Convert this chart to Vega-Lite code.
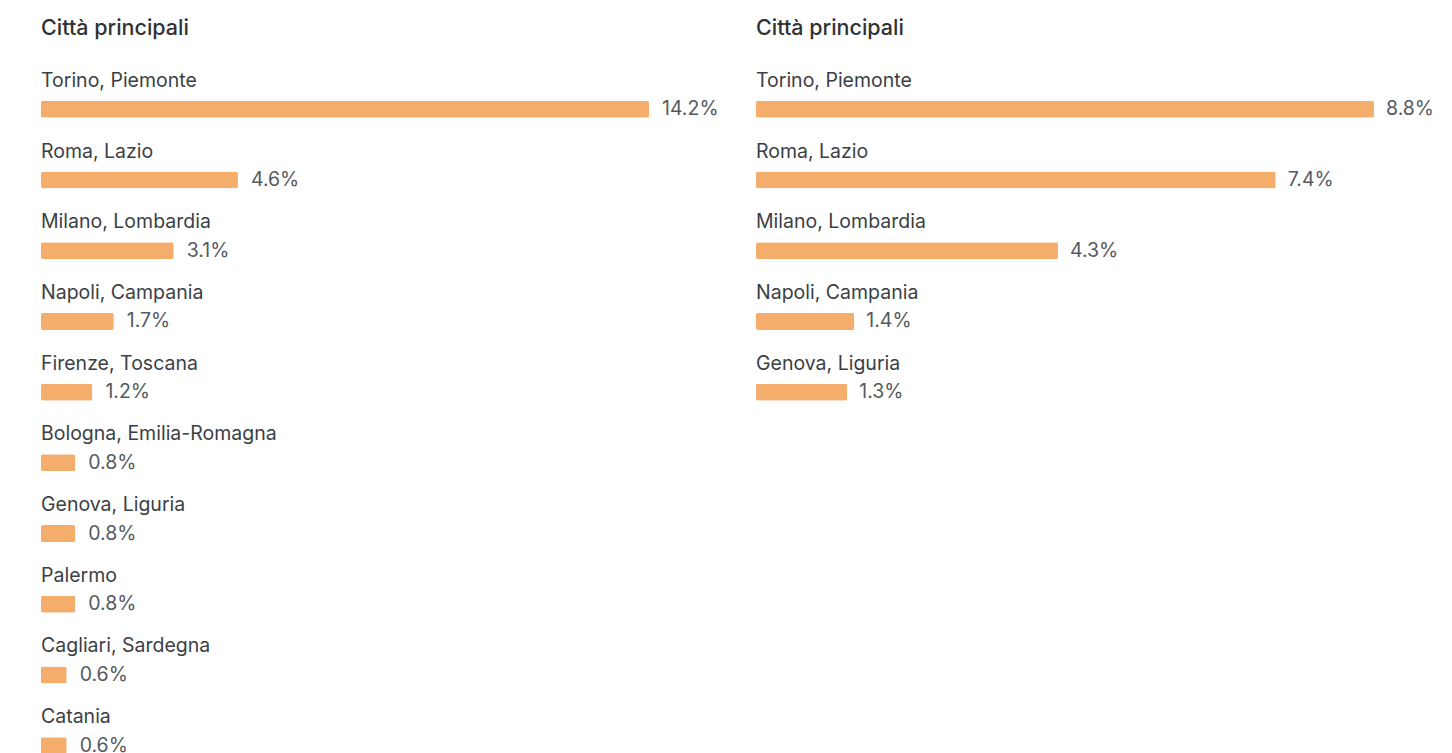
{
  "$schema": "https://vega.github.io/schema/vega-lite/v6.json",
  "background": "white",
  "padding": {"left": 41, "top": 17, "right": 0, "bottom": 0},
  "config": {
    "view": {"stroke": null},
    "font": "Inter",
    "concat": {"spacing": 107},
    "title": {"anchor": "start", "fontSize": 21.5, "fontWeight": 500, "color": "#2f3235", "offset": 9, "font": "Inter"}
  },
  "bounds": "flush",
  "datasets": {
    "left": [
      {"city": "Torino, Piemonte", "share": 0.142},
      {"city": "Roma, Lazio", "share": 0.046},
      {"city": "Milano, Lombardia", "share": 0.031},
      {"city": "Napoli, Campania", "share": 0.017},
      {"city": "Firenze, Toscana", "share": 0.012},
      {"city": "Bologna, Emilia-Romagna", "share": 0.008},
      {"city": "Genova, Liguria", "share": 0.008},
      {"city": "Palermo", "share": 0.008},
      {"city": "Cagliari, Sardegna", "share": 0.006},
      {"city": "Catania", "share": 0.006}
    ],
    "right": [
      {"city": "Torino, Piemonte", "share": 0.088},
      {"city": "Roma, Lazio", "share": 0.074},
      {"city": "Milano, Lombardia", "share": 0.043},
      {"city": "Napoli, Campania", "share": 0.014},
      {"city": "Genova, Liguria", "share": 0.013}
    ]
  },
  "hconcat": [
    {
      "title": "Città principali",
      "width": 608,
      "height": 707,
      "data": {"name": "left"},
      "encoding": {
        "y": {"field": "city", "type": "nominal", "sort": null, "axis": null, "scale": {"paddingInner": 0, "paddingOuter": 0}}
      },
      "layer": [
        {
          "mark": {"type": "bar", "color": "#f5ad6b", "height": 17, "yOffset": 26, "cornerRadius": 2},
          "encoding": {"x": {"field": "share", "type": "quantitative", "axis": null, "scale": {"domain": [0, 0.142], "nice": false}}}
        },
        {
          "mark": {"type": "text", "align": "left", "baseline": "middle", "fontSize": 19.5, "color": "#3b3f45", "yOffset": -2.5, "x": 0},
          "encoding": {"text": {"field": "city"}}
        },
        {
          "mark": {"type": "text", "align": "left", "baseline": "middle", "fontSize": 19.5, "color": "#555a60", "dx": 13, "yOffset": 26},
          "encoding": {
            "x": {"field": "share", "type": "quantitative"},
            "text": {"field": "share", "type": "quantitative", "format": ".1%"}
          }
        }
      ]
    },
    {
      "title": "Città principali",
      "width": 618,
      "height": 353.5,
      "data": {"name": "right"},
      "encoding": {
        "y": {"field": "city", "type": "nominal", "sort": null, "axis": null, "scale": {"paddingInner": 0, "paddingOuter": 0}}
      },
      "layer": [
        {
          "mark": {"type": "bar", "color": "#f5ad6b", "height": 17, "yOffset": 26, "cornerRadius": 2},
          "encoding": {"x": {"field": "share", "type": "quantitative", "axis": null, "scale": {"domain": [0, 0.088], "nice": false}}}
        },
        {
          "mark": {"type": "text", "align": "left", "baseline": "middle", "fontSize": 19.5, "color": "#3b3f45", "yOffset": -2.5, "x": 0},
          "encoding": {"text": {"field": "city"}}
        },
        {
          "mark": {"type": "text", "align": "left", "baseline": "middle", "fontSize": 19.5, "color": "#555a60", "dx": 12, "yOffset": 26},
          "encoding": {
            "x": {"field": "share", "type": "quantitative"},
            "text": {"field": "share", "type": "quantitative", "format": ".1%"}
          }
        }
      ]
    }
  ]
}
